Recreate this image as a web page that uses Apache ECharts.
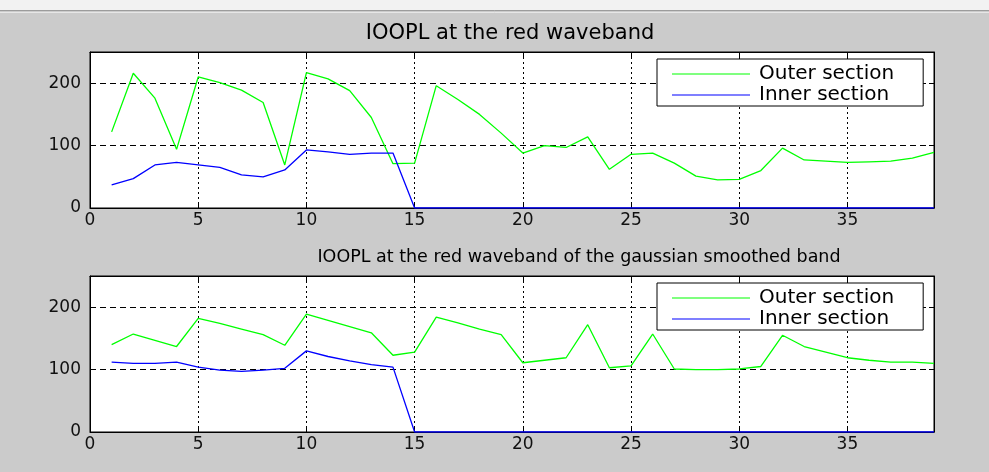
<!DOCTYPE html>
<html><head><meta charset="utf-8">
<script src="https://cdn.jsdelivr.net/npm/echarts@6/dist/echarts.min.js"></script>
<style>html,body{margin:0;padding:0;background:#cbcbcb;overflow:hidden}#c{width:989px;height:472px}</style>
</head><body><div id="c"></div>
<script>
const xValues = [1,2,3,4,5,6,7,8,9,10,11,12,13,14,15,16,17,18,19,20,21,22,23,24,25,26,27,28,29,30,31,32,33,34,35,36,37,38,39];
const titles = ['IOOPL at the red waveband', 'IOOPL at the red waveband of the gaussian smoothed band'];
const seriesNames = ['Outer section', 'Inner section'];
const topOuter = [122,216,176,94,210,201,189,169,69,217,207,188,145,71,72,196,174,150,120,88,100,97,114,62,86,88,72,51,45,46,60,96,77,75,73,74,75,80,89];
const topInner = [37,47,69,73,69,65,53,50,61,93,90,86,88,88,0,0,0,0,0,0,0,0,0,0,0,0,0,0,0,0,0,0,0,0,0,0,0,0,0];
const bottomOuter = [140,157,147,137,182,174,165,156,139,189,179,169,159,123,128,184,175,165,156,111,115,119,172,103,106,157,101,100,100,101,105,155,137,128,119,115,112,112,110];
const bottomInner = [112,110,110,112,104,99,97,99,102,130,121,114,108,104,0,0,0,0,0,0,0,0,0,0,0,0,0,0,0,0,0,0,0,0,0,0,0,0,0];
const xMin = 0, xMax = 39, xStep = 5;
const yMin = 0, yMax = 250, yStep = 100;

const FONT = 'DejaVu Sans';
const pairs = (ys) => xValues.map((x, i) => [x, ys[i]]);

const gridBoxes = [
  {left: 90, top: 52, width: 844, height: 156},
  {left: 90, top: 276, width: 844, height: 156}
];

const xAxes = [], yAxes = [];
gridBoxes.forEach((g, i) => {
  xAxes.push({
    type: 'value', gridIndex: i, min: xMin, max: xMax, interval: xStep, position: 'bottom',
    axisLine: {show: true, onZero: false, lineStyle: {color: '#000', width: 1}},
    axisTick: {show: true, inside: true, length: 5, lineStyle: {color: '#000'}},
    axisLabel: {color: '#111', fontFamily: FONT, fontSize: 17, margin: 4, showMaxLabel: false},
    splitLine: {show: true, lineStyle: {color: '#000', type: [2, 3], width: 1}}
  });
  xAxes.push({
    type: 'value', gridIndex: i, min: xMin, max: xMax, interval: xStep, position: 'top',
    axisLine: {show: true, onZero: false, lineStyle: {color: '#000', width: 1}},
    axisTick: {show: true, inside: true, length: 5, lineStyle: {color: '#000'}},
    axisLabel: {show: false}, splitLine: {show: false}
  });
  yAxes.push({
    type: 'value', gridIndex: i, min: yMin, max: yMax, interval: yStep, position: 'left',
    axisLine: {show: true, onZero: false, lineStyle: {color: '#000', width: 1}},
    axisTick: {show: true, inside: true, length: 5, lineStyle: {color: '#000'}},
    axisLabel: {color: '#111', fontFamily: FONT, fontSize: 17, margin: 9, showMaxLabel: false},
    splitLine: {show: true, lineStyle: {color: '#000', type: [6, 4], width: 1}}
  });
  yAxes.push({
    type: 'value', gridIndex: i, min: yMin, max: yMax, interval: yStep, position: 'right',
    axisLine: {show: true, onZero: false, lineStyle: {color: '#000', width: 1}},
    axisTick: {show: true, inside: true, length: 5, lineStyle: {color: '#000'}},
    axisLabel: {show: false}, splitLine: {show: false}
  });
});

const lineSeries = (name, data, color, gi) => ({
  type: 'line', name, data: pairs(data), xAxisIndex: gi * 2, yAxisIndex: gi * 2,
  symbol: 'none', smooth: false, silent: true, animation: false,
  lineStyle: {color, width: 1.3}, itemStyle: {color}
});

const legendBase = (top) => ({
  orient: 'vertical', left: 657, top,
  data: seriesNames,
  icon: 'path://M0,0 L78,0 L78,1 L0,1 Z',
  itemWidth: 78, itemHeight: 2, itemGap: 1,
  padding: [5, 29, 1, 15],
  backgroundColor: '#fff', borderColor: '#000', borderWidth: 1, borderRadius: 0,
  selectedMode: false,
  textStyle: {fontFamily: FONT, fontSize: 20, color: '#000', lineHeight: 20, padding: [0, 0, 0, 4]}
});

const option = {
  backgroundColor: '#cbcbcb',
  animation: false,
  grid: gridBoxes.map(g => Object.assign({show: true, backgroundColor: '#fff', borderColor: '#000', borderWidth: 1, containLabel: false}, g)),
  xAxis: xAxes,
  yAxis: yAxes,
  legend: [legendBase(59), legendBase(283)],
  series: [
    lineSeries(seriesNames[0], topOuter, '#00ff00', 0),
    lineSeries(seriesNames[1], topInner, '#0000ff', 0),
    lineSeries(seriesNames[0], bottomOuter, '#00ff00', 1),
    lineSeries(seriesNames[1], bottomInner, '#0000ff', 1)
  ],
  graphic: [
    {type: 'rect', shape: {x: 0, y: 0, width: 989, height: 10}, style: {fill: '#f2f2f2'}, silent: true},
    {type: 'line', shape: {x1: 0, y1: 10.5, x2: 989, y2: 10.5}, style: {stroke: '#9c9c9c', lineWidth: 1}, silent: true},
    {type: 'line', shape: {x1: 0, y1: 12.5, x2: 989, y2: 12.5}, style: {stroke: '#e6e6e6', lineWidth: 1}, silent: true},
    {type: 'text', x: 510, y: 34, style: {text: titles[0], font: '21px "DejaVu Sans"', fill: '#000', textAlign: 'center', textVerticalAlign: 'middle'}, silent: true},
    {type: 'text', x: 579, y: 257, style: {text: titles[1], font: '17.5px "DejaVu Sans"', fill: '#000', textAlign: 'center', textVerticalAlign: 'middle'}, silent: true}
  ]
};

const chart = echarts.init(document.getElementById('c'));
chart.setOption(option);
</script>
</body></html>
